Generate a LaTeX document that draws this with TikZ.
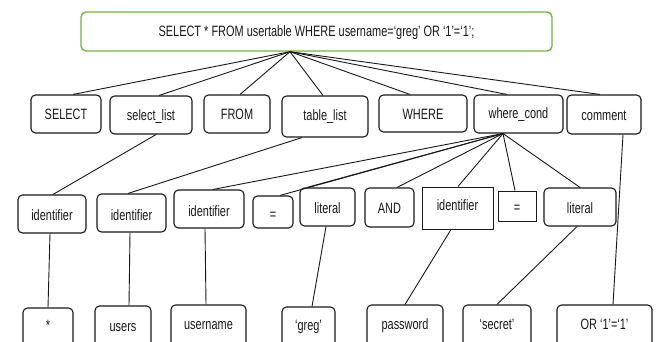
\documentclass[tikz,border=0pt]{standalone}
\usepackage{fontspec}
\setmainfont{Liberation Sans}[FakeStretch=0.73]
\definecolor{boxgreen}{RGB}{118,178,72}
\definecolor{ink}{RGB}{25,25,25}
\tikzset{
  rbox/.style={draw=ink,line width=1.1pt,rounded corners=4.5pt,text=ink},
  sbox/.style={draw=ink,line width=1pt,text=ink},
  gbox/.style={draw=boxgreen,line width=1.4pt,rounded corners=5pt,text=ink},
  link/.style={draw=ink,line width=0.9pt},
  every node/.style={font=\fontsize{15}{17}\selectfont}
}
\newcommand\bx[8]{%
  \pgfmathsetmacro\bw{#4-#2}\pgfmathsetmacro\bh{#6-#3}%
  \pgfmathsetmacro\bd{#5-#6}\pgfmathsetmacro\bcx{(#2+#4)/2}%
  \node[#7,anchor=base,minimum width=\bw pt,text height=\bh pt,text depth=\bd pt,inner sep=0pt] (#1) at (\bcx,#6) {#8};}
\begin{document}
\begin{tikzpicture}[x=1pt,y=-1pt]
\useasboundingbox (0,0) rectangle (658,342);
\clip (0,0) rectangle (658,342);
\fill[white] (0,0) rectangle (658,342);
% top
\bx{top}{81}{12}{552}{51}{36.5}{gbox}{SELECT * FROM usertable WHERE username=‘greg’ OR ‘1’=‘1’;}
% row 1
\bx{sel}{31}{95}{101}{133}{120}{rbox}{SELECT}
\bx{sell}{110}{96}{192}{134}{121}{rbox}{select\_list}
\bx{from}{204}{95}{270}{133}{120}{rbox}{FROM}
\bx{tabl}{282}{96}{368}{137}{121}{rbox}{table\_list}
\bx{where}{379}{95}{467}{132}{120}{rbox}{WHERE}
\bx{wc}{474}{95}{563}{133}{119}{rbox}{where\_cond}
\bx{com}{567}{95}{641}{134}{120.5}{rbox}{comment}
% row 2
\bx{id1}{18}{195}{86}{233}{220.5}{rbox}{identifier}
\bx{id2}{97}{194}{166}{232}{220.5}{rbox}{identifier}
\bx{id3}{174}{190}{244}{228}{216.5}{rbox}{identifier}
\bx{eq1}{253}{196}{293}{228}{219}{rbox}{=}
\bx{lit1}{300}{188}{355}{226}{213.3}{rbox}{literal}
\bx{and}{365}{188}{414}{227}{213.3}{rbox}{AND}
\bx{id4}{422}{187}{493}{229}{210}{sbox}{identifier}
\bx{eq2}{498}{191}{536}{221}{212}{sbox}{=}
\bx{lit2}{544}{188}{616}{226}{213.3}{rbox}{literal}
% row 3
\bx{star}{23}{308}{73}{352}{330}{rbox}{*}
\bx{users}{95}{306}{151}{352}{331.5}{rbox}{users}
\bx{uname}{171}{305}{246}{352}{329.3}{rbox}{username}
\bx{greg}{282}{307}{335}{352}{330}{rbox}{‘greg’}
\bx{pw}{367}{305}{443}{352}{329}{rbox}{password}
\bx{secret}{463}{305}{531}{352}{329.3}{rbox}{‘secret’}
\bx{orr}{557}{305}{652}{352}{329.3}{rbox}{OR ‘1’=‘1’}
% links from top
\draw[link] ([xshift=-26.5pt]top.south) -- ([xshift=7pt]sel.north);
\draw[link] ([xshift=-26.5pt]top.south) -- ([xshift=8pt]sell.north);
\draw[link] ([xshift=-26.5pt]top.south) -- ([xshift=3pt]from.north);
\draw[link] ([xshift=-26.5pt]top.south) -- ([xshift=-2pt]tabl.north);
\draw[link] ([xshift=-26.5pt]top.south) -- ([xshift=-13pt]where.north);
\draw[link] ([xshift=-26.5pt]top.south) -- ([xshift=-11.5pt]wc.north);
\draw[link] ([xshift=-26.5pt]top.south) -- ([xshift=-4pt]com.north);
% row1 to row2
\draw[link] ([xshift=5pt]sell.south) -- ([xshift=1pt]id1.north);
\draw[link] ([xshift=-23pt]tabl.south) -- ([xshift=-3.5pt]id2.north);
\draw[link] ([xshift=-15.5pt]wc.south) -- ([xshift=4pt]id3.north);
\draw[link] ([xshift=-15.5pt]wc.south) -- ([xshift=7pt]eq1.north);
\draw[link] ([xshift=-15.5pt]wc.south) -- ([xshift=-20.5pt]lit1.north);
\draw[link] ([xshift=-15.5pt]wc.south) -- ([xshift=7.5pt]and.north);
\draw[link] ([xshift=-15.5pt]wc.south) -- ([xshift=0.5pt]id4.north);
\draw[link] ([xshift=-15.5pt]wc.south) -- ([xshift=-2pt]eq2.north);
\draw[link] ([xshift=-15.5pt]wc.south) -- (lit2.north);
\draw[link] ([xshift=19pt]com.south) -- ([xshift=8.5pt]orr.north);
% row2 to row3
\draw[link] ([xshift=-2pt]id1.south) -- (star.north);
\draw[link] ([xshift=-1.5pt]id2.south) -- ([xshift=6pt]users.north);
\draw[link] ([xshift=-4pt]id3.south) -- ([xshift=-2.5pt]uname.north);
\draw[link] ([xshift=-1.5pt]lit1.south) -- ([xshift=3.5pt]greg.north);
\draw[link] ([xshift=-6.5pt]id4.south) -- (pw.north);
\draw[link] ([xshift=-3pt]lit2.south) -- (secret.north);
\end{tikzpicture}
\end{document}
